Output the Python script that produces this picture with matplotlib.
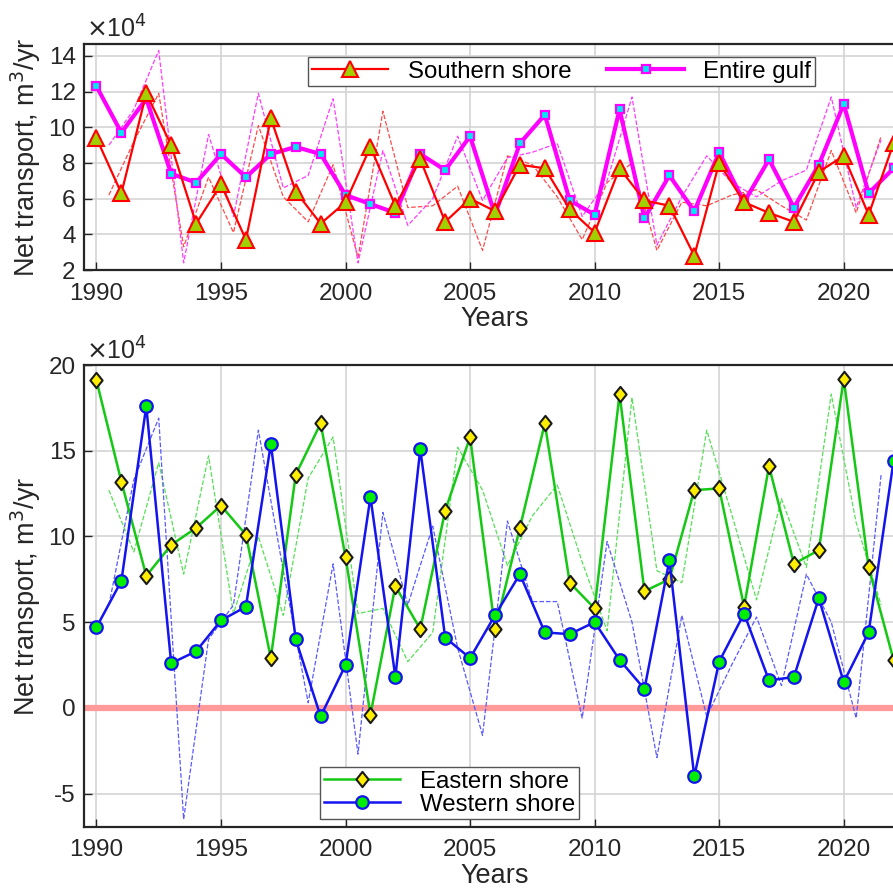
import numpy as np
import matplotlib
matplotlib.use('Agg')
import matplotlib.pyplot as plt
from matplotlib.path import Path

# values in units of 1e4 m^3/yr
years = list(range(1990, 2023))
half_years = [y + 0.5 for y in range(1990, 2022)]

southern = [9.4, 6.3, 11.9, 9.0, 4.6, 6.8, 3.7, 10.5, 6.4, 4.6, 5.8, 8.9, 5.6, 8.2, 4.7, 6.0,
            5.3, 7.9, 7.7, 5.4, 4.1, 7.7, 5.9, 5.6, 2.8, 8.0, 5.8, 5.2, 4.7, 7.5, 8.4, 5.1, 9.1]
gulf = [12.3, 9.7, 11.6, 7.4, 6.9, 8.5, 7.2, 8.5, 8.9, 8.5, 6.2, 5.7, 5.2, 8.5, 7.6, 9.5,
        5.1, 9.1, 10.7, 5.9, 5.1, 11.0, 4.9, 7.3, 5.3, 8.6, 5.8, 8.2, 5.5, 7.9, 11.3, 6.3, 7.7]
southern_dash = [6.2, 9.2, 11.9, 3.3, 7.2, 4.1, 10.1, 6.1, 4.7, 7.9, 2.7, 10.9, 5.5, 5.6, 6.7, 3.1,
                 8.4, 7.9, 6.1, 3.7, 6.9, 8.0, 3.1, 5.8, 5.6, 6.2, 6.5, 5.6, 4.8, 8.7, 5.2, 9.5]
gulf_dash = [9.0, 11.0, 14.3, 2.4, 9.6, 5.0, 11.9, 6.6, 7.3, 11.6, 2.4, 8.7, 4.5, 6.0, 9.5, 5.9,
             8.3, 8.6, 9.1, 5.0, 7.0, 11.7, 3.4, 6.1, 8.4, 6.9, 6.1, 7.0, 7.6, 11.7, 5.5, 9.3]

eastern = [19.1, 13.2, 7.7, 9.5, 10.5, 11.8, 10.1, 2.9, 13.6, 16.6, 8.8, -0.4, 7.1, 4.6, 11.5, 15.8,
           4.6, 10.5, 16.6, 7.3, 5.8, 18.3, 6.8, 7.5, 12.7, 12.8, 5.9, 14.1, 8.4, 9.2, 19.2, 8.2, 2.8]
western = [4.7, 7.4, 17.6, 2.6, 3.3, 5.1, 5.9, 15.4, 4.0, -0.5, 2.5, 12.3, 1.8, 15.1, 4.1, 2.9,
           5.4, 7.8, 4.4, 4.3, 5.0, 2.8, 1.1, 8.6, -4.0, 2.7, 5.5, 1.6, 1.8, 6.4, 1.5, 4.4, 14.4]
eastern_dash = [12.7, 9.1, 14.3, 7.8, 14.7, 5.5, 10.0, 5.4, 13.4, 15.8, 5.5, 5.8, 2.7, 4.4, 15.2, 12.7,
                8.3, 11.2, 13.0, 8.5, 4.5, 18.1, 8.0, 7.3, 16.2, 11.3, 6.3, 12.2, 8.2, 18.3, 10.8, 6.0]
western_dash = [6.0, 13.3, 16.9, -6.5, 4.0, 6.0, 16.2, 8.0, 0.3, 8.4, -2.7, 11.4, 6.0, 10.6, 3.5, -1.6,
                10.9, 6.2, 6.2, -0.6, 9.7, 5.0, -2.9, 5.4, -0.5, 2.5, 5.3, 1.3, 7.8, 5.0, -0.6, 13.6]

plt.rcParams['font.family'] = ['Liberation Sans', 'DejaVu Sans']
plt.rcParams['font.size'] = 17
axcol = '#262626'

# MATLAB-like diamond (a bit taller than wide)
diamond = Path([(0, 1), (0.8, 0), (0, -1), (-0.8, 0), (0, 1)],
               [Path.MOVETO, Path.LINETO, Path.LINETO, Path.LINETO, Path.CLOSEPOLY])

fig = plt.figure(figsize=(8.93, 8.90), dpi=100)
W, H = 893.0, 890.0
ax1 = fig.add_axes([84 / W, 1 - 270 / H, (906 - 84) / W, 226 / H])
ax2 = fig.add_axes([84 / W, 1 - 827 / H, (906 - 84) / W, 462 / H])

for ax in (ax1, ax2):
    ax.set_xlim(1989.5, 2022.5)
    ax.set_xticks([1990, 1995, 2000, 2005, 2010, 2015, 2020])
    ax.grid(True, color='#d4d4d4', lw=1.2)
    ax.set_axisbelow(True)
    ax.tick_params(direction='in', length=6, width=1, colors=axcol, labelsize=17.5,
                   top=False, right=False)
    ax.tick_params(axis='x', pad=9)
    ax.tick_params(axis='y', pad=6)
    for s in ax.spines.values():
        s.set_color(axcol)
        s.set_linewidth(1.6)
    ax.set_xlabel('Years', color=axcol, fontsize=19.5, labelpad=1)
    ax.set_ylabel('Net transport, m$^3$/yr', color=axcol, fontsize=19.5, labelpad=4)

# ---- top panel
ax1.plot(half_years, southern_dash, '--', color='#ff4a4a', lw=0.9)
ax1.plot(half_years, gulf_dash, '--', color='#ff3cff', lw=0.9)
ax1.plot(years, gulf, '-s', color='#ff00ff', lw=3, ms=6, mfc='#00e8f0', mec='#ff00ff', mew=1.6,
         label='Entire gulf')
ax1.plot(years, southern, '-^', color='#ff0000', lw=1.6, ms=11, mfc='#a0d000', mec='#ff0000', mew=1.5,
         label='Southern shore')
ax1.set_ylim(2, 14.67)
ax1.set_yticks([2, 4, 6, 8, 10, 12, 14])
h, l = ax1.get_legend_handles_labels()
ax1.legend(h[::-1], l[::-1], ncol=2, loc='upper left', bbox_to_anchor=(308 / W, 1 - 57 / H),
           bbox_transform=fig.transFigure, fancybox=False, framealpha=1, edgecolor='#555555',
           fontsize=17.3, handlelength=3.2, borderpad=0.15, columnspacing=1.5, handletextpad=0.8,
           borderaxespad=0)
fig.text(86 / W, 1 - 38 / H, r'$\times$10$^4$', color=axcol, fontsize=18, ha='left', va='baseline')

# ---- bottom panel
ax2.axhline(0, color='#ff9a9a', lw=4.5, zorder=1.5)
ax2.plot(half_years, eastern_dash, '--', color='#55e055', lw=0.9)
ax2.plot(half_years, western_dash, '--', color='#5a5aff', lw=0.9)
ax2.plot(years, eastern, '-', color='#14c814', lw=1.8, marker=diamond, ms=11, mfc='#ffee00',
         mec='#1a1a1a', mew=1.5, label='Eastern shore')
ax2.plot(years, western, '-o', color='#1414f0', lw=1.8, ms=9, mfc='#00ee00', mec='#1414f0',
         mew=1.6, label='Western shore')
ax2.set_ylim(-6.95, 20)
ax2.set_yticks([-5, 0, 5, 10, 15, 20])
ax2.set_yticklabels(['-5', '0', '5', '10', '15', '20'])
ax2.legend(loc='upper left', bbox_to_anchor=(320 / W, 1 - 767 / H),
           bbox_transform=fig.transFigure, fancybox=False, framealpha=1, edgecolor='#555555',
           fontsize=17.3, handlelength=3.2, borderpad=0.15, labelspacing=0.05, handletextpad=0.8,
           borderaxespad=0)
fig.text(86 / W, 1 - 360 / H, r'$\times$10$^4$', color=axcol, fontsize=18, ha='left', va='baseline')

fig.savefig('out.png', dpi=100)
